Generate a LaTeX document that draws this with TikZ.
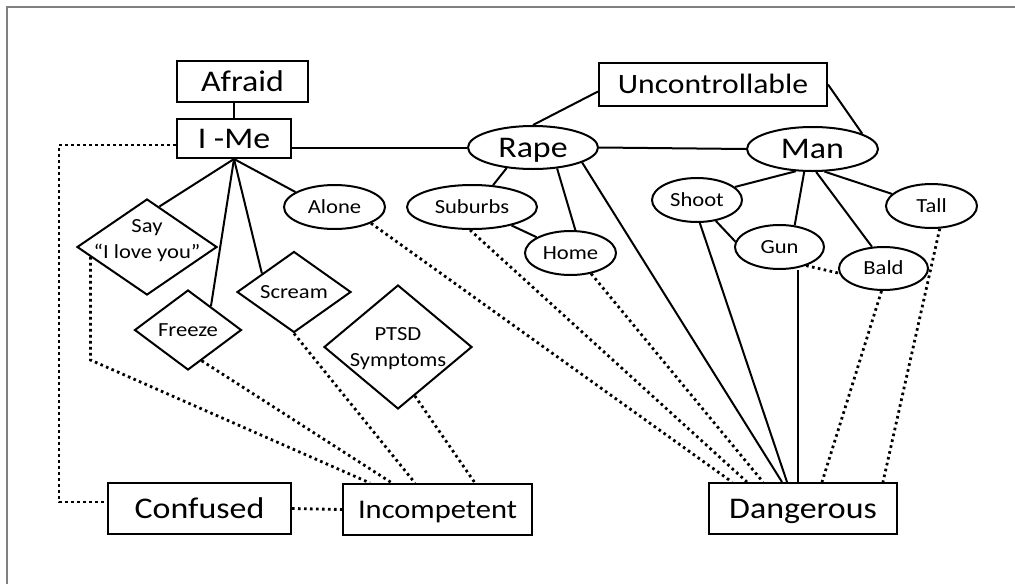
\documentclass[tikz,border=0pt]{standalone}
\usepackage{fontspec}
\setmainfont{Carlito}[FakeStretch=1.13]
\usetikzlibrary{shapes.geometric}
\definecolor{framegray}{RGB}{128,128,128}
\begin{document}
\begin{tikzpicture}[x=1pt,y=-1pt,
 bigfont/.style={font=\fontsize{30}{36}\selectfont, text height=19.3pt, text depth=0pt},
 smalltxt/.style={font=\fontsize{20}{26}\selectfont, align=center},
 smallfont/.style={smalltxt, text height=12.9pt, text depth=0pt},
 box/.style={draw, rectangle, line width=2pt, inner sep=0pt, bigfont},
 bigell/.style={draw, ellipse, line width=2pt, inner sep=0pt, bigfont},
 ell/.style={draw, ellipse, line width=2pt, inner sep=0pt, smallfont},
 dia/.style={draw, diamond, line width=2pt, inner sep=0pt},
 link/.style={line width=2pt},
 dotlink/.style={line width=2.8pt, dash pattern=on 2.6pt off 3.4pt},
]
\useasboundingbox (0,0) rectangle (1015,584);
\draw[framegray, line width=2pt] (6.5,584) -- (6.5,6.5) -- (1015,6.5);

% boxes
\node[box, minimum width=131pt, minimum height=41pt] (afraid) at (242.5,81.5) {Afraid};
\node[box, minimum width=114pt, minimum height=39pt] (ime) at (234,138.5) {I -Me};
\node[box, minimum width=228pt, minimum height=43pt, font=\fontsize{28}{34}\selectfont, text height=18pt] (unc) at (713,84.5) {Uncontrollable};
\node[box, minimum width=183pt, minimum height=51pt] (confused) at (199.5,508.5) {Confused};
\node[box, minimum width=189pt, minimum height=51pt, font=\fontsize{27}{32}\selectfont, text height=17.4pt] (incomp) at (437.5,509.5) {Incompetent};
\node[box, minimum width=188pt, minimum height=51pt] (danger) at (803,508.5) {Dangerous};

% big ellipses
\node[bigell, minimum width=130pt, minimum height=43pt] (rape) at (533,147.5) {Rape};
\node[bigell, minimum width=131pt, minimum height=44pt] (man) at (812.5,149) {Man};

% small ellipses
\node[ell, minimum width=130pt, minimum height=44pt] (suburbs) at (472,207) {Suburbs};
\node[ell, minimum width=91pt, minimum height=44pt] (home) at (570.5,253) {Home};
\node[ell, minimum width=101pt, minimum height=44pt] (alone) at (334.5,207) {Alone};
\node[ell, minimum width=90pt, minimum height=44pt] (shoot) at (697,200) {Shoot};
\node[ell, minimum width=89pt, minimum height=44pt] (gun) at (779.5,247) {Gun};
\node[ell, minimum width=89pt, minimum height=43pt] (bald) at (883.5,268.5) {Bald};
\node[ell, minimum width=91pt, minimum height=44pt] (tall) at (931.5,206) {Tall};

% diamonds
\node[dia, minimum width=140pt, minimum height=96pt,
  label={[smalltxt, yshift=6.5pt]center:{Say\\“I love you”}}] (say) at (147,247) {};
\node[dia, minimum width=107pt, minimum height=80pt,
  label={[smallfont]center:Freeze}] (freeze) at (188,330) {};
\node[dia, minimum width=114pt, minimum height=81pt,
  label={[smallfont]center:Scream}] (scream) at (294,292) {};
\node[dia, minimum width=148pt, minimum height=124pt,
  label={[smalltxt, yshift=-1.5pt]center:{PTSD\\Symptoms}}] (ptsd) at (398,347) {};

% solid connectors
\draw[link] (ime.north) -- (ime.north |- afraid.south);
\draw[link] (rape.west -| ime.east) -- (rape.west);
\draw[link] (rape.east) -- (man.west);
\draw[link] ([yshift=-7pt]unc.west) -- (rape.north);
\draw[link] (unc.east) -- (man.17);
\draw[link] (ime.south) -- (say.73);
\draw[link] (ime.south) -- (freeze.46);
\draw[link] (ime.south) -- (scream.150);
\draw[link] (ime.south) -- (alone.159);
\draw[link] (rape.218) -- (suburbs.46);
\draw[link] (rape.319) -- (home.78);
\draw[link] (suburbs) -- (home);
\draw[link] (rape.343) -- ([xshift=-21pt]danger.north);
\draw[link] (man.233) -- (shoot.19);
\draw[link] (man.250) -- (gun.55);
\draw[link] (man.279) -- (bald.118);
\draw[link] (man.298) -- (tall.163);
\draw[link] (shoot.312) -- (gun.173);
\draw[link] (shoot.277) -- ([xshift=-16pt]danger.north);
\draw[link] ([xshift=-5pt]danger.north) -- ([xshift=-5pt]danger.north |- gun.south);

% dotted connectors
\draw[dotlink] ([yshift=-6.5pt]ime.west) -- ++(-117,0) |- ([yshift=6.5pt]confused.west);
\draw[dotlink] (confused.east) -- (incomp.west);
\draw[dotlink] (say.190) -- ++(0,103) -- ([xshift=-67.5pt]incomp.north);
\draw[dotlink] (freeze.294) -- ([xshift=-45.5pt]incomp.north);
\draw[dotlink] (scream.south) -- ([xshift=-22.5pt]incomp.north);
\draw[dotlink] (ptsd.289) -- ([xshift=37.5pt]incomp.north);
\draw[dotlink] (alone.336) -- ([xshift=-71pt]danger.north);
\draw[dotlink] (suburbs.265) -- ([xshift=-56pt]danger.north);
\draw[dotlink] (home.315) -- ([xshift=-40pt]danger.north);
\draw[dotlink] (bald.265) -- ([xshift=19pt]danger.north);
\draw[dotlink] (tall.290) -- ([xshift=80pt]danger.north);
\draw[dotlink] (gun.325) -- (bald.186);
\end{tikzpicture}
\end{document}
